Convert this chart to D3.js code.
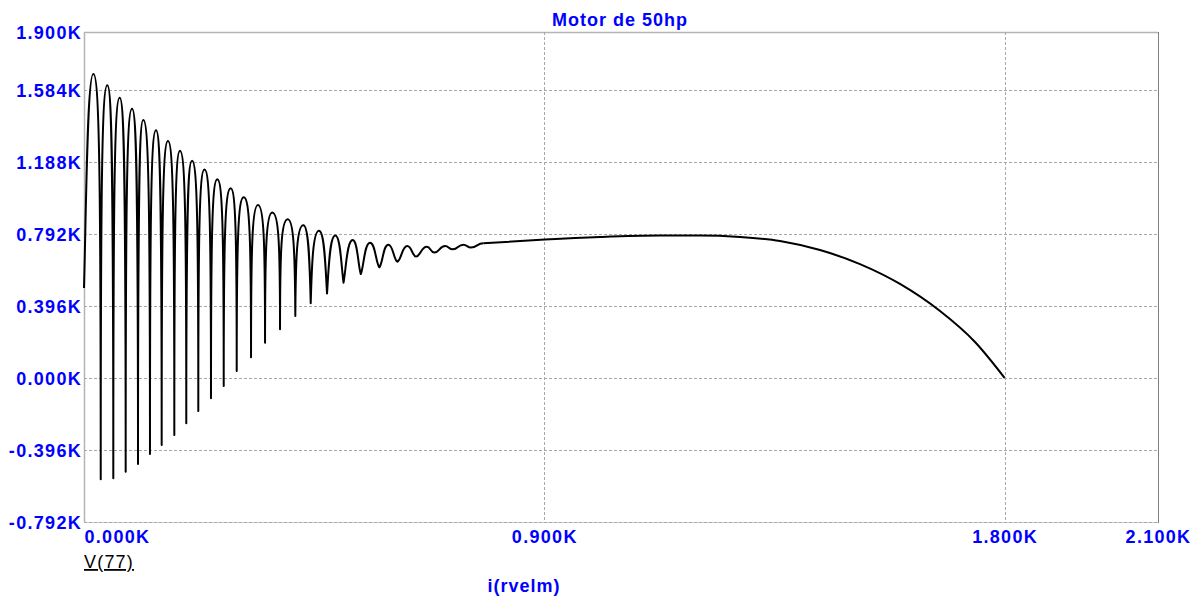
<!DOCTYPE html>
<html><head><meta charset="utf-8">
<script src="https://cdn.jsdelivr.net/npm/d3@7"></script>
<style>body{margin:0;background:#fff;} svg{display:block;}</style>
</head><body><svg id="c" width="1204" height="603"></svg>
<script>
// ---- data (x = i(rvelm), y = V(77)) ----
const startX = 0, startY = 494;
const peakX = [18.2,45.6,69.8,93.9,115.9,140.8,164.2,187.7,211.2,235.6,260.6,286.8,312.3,340.2,368.2,398.3,428.8,459.5,491.4,525.4,559.2,595.0,632.1,670.1,705.9,741.6,780.7];
const peakY = [1669,1607,1539,1479,1417,1360,1301,1248,1193,1144,1091,1041,992,950,909,871,838,808,782,757,742,731,724,720,724,731,739];
const troughX = [32.7,57.3,81.5,105.6,129.0,151.9,176.6,200.0,223.5,248.3,273.2,298.6,326.6,354.0,383.3,413.2,443.3,475.2,507.5,541.2,577.5,612.7,649.2,685.0,721.0,756.7];
const troughY = [-557,-552,-516,-473,-418,-369,-314,-250,-182,-112,-45,38,113,193,267,340,410,464,523,570,607,638,666,688,706,716];
const tailX = [780.7,901.4,1008.9,1126.3,1204.5,1282.7,1360.9,1439.1,1517.3,1595.5,1673.8,1742.2,1800];
const tailY = [739,760,774,782,782,774,752,702,625,516,367,197,0];
const xTicks = [0, 900, 1800, 2100];
const yTicks = [-792, -396, 0, 396, 792, 1188, 1584, 1900];
const titleText = "Motor de 50hp";
const yName = "V(77)";
const xName = "i(rvelm)";

// ---- layout ----
const L = 84, R = 1158, T = 32, B = 522;
const svg = d3.select("#c");
const x = d3.scaleLinear().domain([0, 2100]).range([L, R]);
const y = d3.scaleLinear().domain([-792, 1900]).range([B, T]);
const fmt = v => (v / 1000).toFixed(3) + "K";
const FONT = "'Liberation Sans', Arial, sans-serif";
const BLUE = "#0000ff";

// plot borders
svg.append("line").attr("x1", L).attr("x2", R).attr("y1", T + 0.5).attr("y2", T + 0.5).attr("stroke", "#b4b4b4").attr("stroke-width", 1.5);
svg.append("line").attr("x1", L + 0.5).attr("x2", L + 0.5).attr("y1", T).attr("y2", B).attr("stroke", "#b4b4b4").attr("stroke-width", 1.5);
svg.append("line").attr("x1", L).attr("x2", R).attr("y1", B + 0.5).attr("y2", B + 0.5).attr("stroke", "#d0d0d0").attr("stroke-width", 1);
svg.append("line").attr("x1", R + 0.5).attr("x2", R + 0.5).attr("y1", T).attr("y2", B + 1).attr("stroke", "#808080").attr("stroke-width", 1);

// grid
const grid = svg.append("g").attr("stroke", "#a8a8a8").attr("stroke-width", 1).attr("stroke-dasharray", "3,2");
grid.selectAll("line.h").data(yTicks.filter(v => v !== 1900)).enter().append("line")
  .attr("x1", L).attr("x2", R).attr("y1", d => Math.round(y(d)) + 0.5).attr("y2", d => Math.round(y(d)) + 0.5);
grid.selectAll("line.v").data(xTicks.filter(v => v !== 0 && v !== 2100)).enter().append("line")
  .attr("y1", T).attr("y2", B).attr("x1", d => Math.round(x(d)) + 0.5).attr("x2", d => Math.round(x(d)) + 0.5);

// axes
const yAxis = svg.append("g").attr("transform", `translate(${L},0)`)
  .call(d3.axisLeft(y).tickValues(yTicks).tickFormat(fmt).tickSize(0).tickPadding(2));
yAxis.select(".domain").remove();
yAxis.selectAll("text").attr("dy", "0.38em");
const xAxis = svg.append("g").attr("transform", `translate(0,${B})`)
  .call(d3.axisBottom(x).tickValues(xTicks).tickFormat(fmt).tickSize(0).tickPadding(8));
xAxis.select(".domain").remove();
xAxis.selectAll("text").filter(d => d === 0).attr("text-anchor", "start");
svg.selectAll(".tick text").attr("fill", BLUE).attr("font-family", FONT).attr("font-weight", "bold")
  .attr("font-size", 18).style("letter-spacing", "1.3px");

// titles
svg.append("text").attr("x", 620).attr("y", 26).attr("text-anchor", "middle").attr("fill", BLUE)
  .attr("font-family", FONT).attr("font-weight", "bold").attr("font-size", 18).style("letter-spacing", "1px").text(titleText);
svg.append("text").attr("x", 84).attr("y", 568).attr("fill", "#000").attr("font-family", FONT)
  .attr("font-size", 18).style("letter-spacing", "1.2px").attr("text-decoration", "underline").text(yName);
svg.append("text").attr("x", 524).attr("y", 592).attr("text-anchor", "middle").attr("fill", BLUE)
  .attr("font-family", FONT).attr("font-weight", "bold").attr("font-size", 18).style("letter-spacing", "1px").text(xName);

// curve: sharp troughs near zero, rounder as the trough rises
function archCurve(roundAt) {
  function Arch(ctx) { this._context = ctx; }
  Arch.prototype = {
    areaStart() { this._line = 0; }, areaEnd() { this._line = NaN; },
    lineStart() { this._point = 0; },
    lineEnd() { if (this._line || (this._line !== 0 && this._point === 1)) this._context.closePath(); this._line = 1 - this._line; },
    point(px, py) {
      px = +px; py = +py;
      if (!this._point) { this._point = 1; this._line ? this._context.lineTo(px, py) : this._context.moveTo(px, py); }
      else {
        this._point = 2;
        const x0 = this._x0, y0 = this._y0, dx = px - x0;
        if (py < y0) {
          const r = roundAt(y0);
          this._context.bezierCurveTo(x0 + r * dx / 2, y0 + (1 - r) * 0.75 * (py - y0),
                                      x0 + (0.2 + 0.3 * r) * dx, py, px, py);
        } else {
          const r = roundAt(py);
          this._context.bezierCurveTo(px - (0.2 + 0.3 * r) * dx, y0,
                                      px - r * dx / 2, py - (1 - r) * 0.75 * (py - y0), px, py);
        }
      }
      this._x0 = px; this._y0 = py;
    }
  };
  return ctx => new Arch(ctx);
}
const roundAt = py => Math.max(0, Math.min(1, (y.invert(py) - 300) / 400));

const osc = [[startX, startY]];
peakX.forEach((px, i) => {
  osc.push([px, peakY[i]]);
  if (i < troughX.length) osc.push([troughX[i], troughY[i]]);
});
const tail = tailX.map((tx, i) => [tx, tailY[i]]);

svg.append("path").datum(osc).attr("fill", "none").attr("stroke", "#000").attr("stroke-width", 2)
  .attr("stroke-linejoin", "round")
  .attr("d", d3.line().x(d => x(d[0])).y(d => y(d[1])).curve(archCurve(roundAt)));
svg.append("path").datum(tail).attr("fill", "none").attr("stroke", "#000").attr("stroke-width", 2)
  .attr("d", d3.line().x(d => x(d[0])).y(d => y(d[1])).curve(d3.curveMonotoneX));
</script></body></html>
